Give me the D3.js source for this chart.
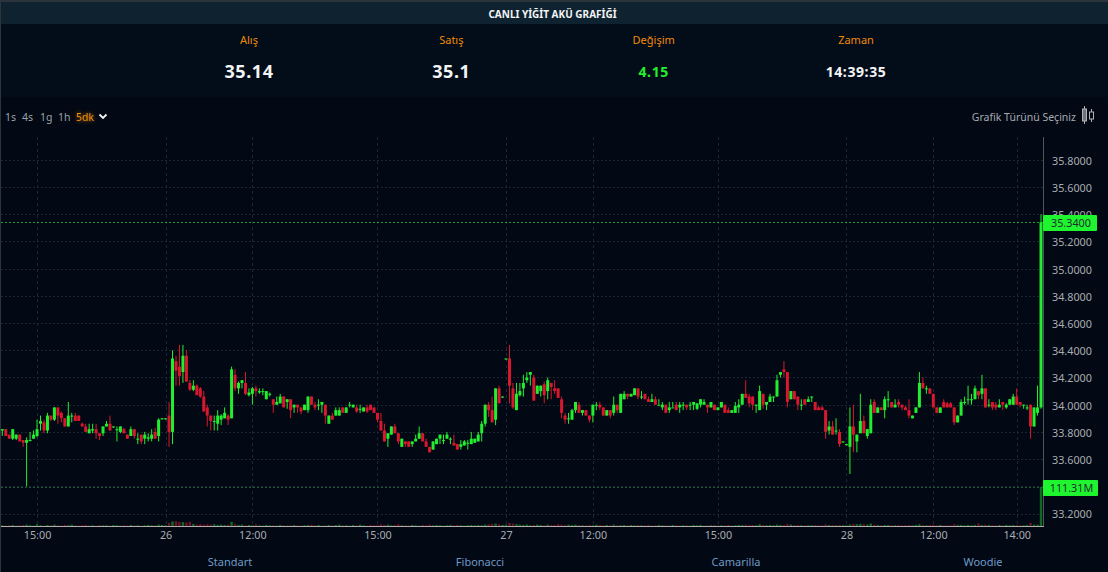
<!DOCTYPE html>
<html lang="tr">
  <head>
    <meta charset="utf-8">
    <title>Canlı Yiğit Akü Grafiği</title>
    <script src="https://cdnjs.cloudflare.com/ajax/libs/d3/7.8.0/d3.min.js"></script>
    <style>
      html, body { margin: 0; padding: 0; background: #020814; overflow: hidden; }
      svg { display: block; }
      text { font-family: "Noto Sans", sans-serif; }
      .axis path, .axis line { display: none; }
      .axis text { fill: #a9adb1; font-size: 10.8px; font-family: "Noto Sans", sans-serif; }
    </style>
  </head>
  <body>
    <div id="chartContainer"></div>

    <script type="text/javascript">
      // Candles, 5 minute bars
      var opens = [
        33.81,33.82,33.78,33.75,33.75,33.78,33.74,33.72,33.74,33.75,
        33.77,33.86,33.87,33.81,33.92,33.89,33.98,33.94,33.90,33.84,
        33.92,33.92,33.92,33.86,33.84,33.79,33.81,33.82,33.79,33.79,
        33.84,33.86,33.84,33.82,33.80,33.82,33.78,33.77,33.82,33.75,
        33.78,33.75,33.75,33.75,33.80,33.77,33.90,33.90,33.92,33.80,
        34.32,34.28,34.24,34.36,34.16,34.11,34.14,34.12,34.06,33.98,
        33.92,33.88,33.86,33.89,33.90,33.92,33.90,34.22,34.12,34.16,
        34.16,34.07,34.08,34.12,34.09,34.10,34.04,34.08,34.04,34.00,
        34.01,34.06,34.02,34.04,33.98,34.00,33.98,33.96,33.96,34.06,
        34.00,34.00,34.00,34.00,33.86,33.92,33.92,33.92,33.98,33.94,
        34.00,33.98,33.98,33.97,33.95,33.98,34.00,33.98,33.94,33.88,
        33.81,33.75,33.78,33.84,33.79,33.69,33.73,33.73,33.71,33.73,
        33.75,33.79,33.73,33.69,33.67,33.71,33.75,33.74,33.75,33.75,
        33.72,33.71,33.69,33.70,33.72,33.71,33.72,33.73,33.79,33.86,
        34.00,33.96,33.89,34.12,34.06,34.34,34.34,34.12,33.96,34.07,
        34.12,34.18,34.22,34.20,34.08,34.10,34.15,34.10,34.16,34.12,
        34.12,34.04,33.92,33.90,33.89,33.96,34.00,33.94,33.96,33.92,
        33.92,34.00,34.00,33.98,33.92,33.96,33.94,34.00,33.94,34.04,
        34.08,34.06,34.07,34.12,34.06,34.08,34.04,34.02,34.04,34.00,
        33.98,34.00,33.96,33.98,34.00,33.98,34.00,34.00,34.00,34.00,
        33.97,34.00,34.00,34.00,33.98,34.00,33.96,33.98,34.00,33.96,
        33.94,33.94,33.98,34.00,34.08,34.06,34.06,34.00,33.96,34.08,
        34.00,34.02,34.06,34.06,34.22,34.26,34.24,34.04,34.10,34.06,
        34.00,34.04,34.02,34.06,34.02,33.98,33.98,33.96,33.81,33.84,
        33.81,33.80,33.73,33.71,33.69,33.84,33.73,33.79,33.88,33.77,
        33.79,34.02,33.94,33.98,33.96,34.04,34.02,33.98,34.02,34.00,
        33.98,33.96,33.90,33.94,33.98,34.16,34.12,34.12,34.08,33.98,
        33.94,34.02,34.01,34.01,33.98,33.87,33.92,34.02,34.04,34.04,
        34.04,34.10,34.08,34.12,34.00,34.02,34.00,33.98,34.02,33.98,
        34.00,34.00,34.06,34.02,34.00,33.98,34.00,33.84,33.94,33.98
      ];
      var closes = [
        33.82,33.77,33.75,33.82,33.78,33.73,33.72,33.74,33.74,33.78,
        33.82,33.88,33.81,33.92,33.89,33.98,33.92,33.90,33.84,33.92,
        33.92,33.88,33.88,33.84,33.80,33.82,33.82,33.79,33.77,33.84,
        33.86,33.81,33.84,33.82,33.84,33.79,33.75,33.82,33.77,33.75,
        33.73,33.78,33.76,33.78,33.75,33.89,33.90,33.90,33.80,34.34,
        34.25,34.21,34.36,34.17,34.11,34.14,34.07,34.06,33.95,33.92,
        33.88,33.88,33.92,33.92,33.94,33.89,34.26,34.12,34.16,34.18,
        34.08,34.09,34.12,34.10,34.10,34.10,34.10,34.08,34.00,34.02,
        34.06,33.98,34.04,33.96,34.00,33.98,33.95,34.00,34.06,34.00,
        33.98,34.00,34.02,33.92,33.92,33.89,33.96,33.96,33.94,33.98,
        34.00,34.00,33.95,33.97,33.98,33.95,33.96,33.94,33.89,33.81,
        33.73,33.79,33.84,33.79,33.73,33.75,33.71,33.69,33.73,33.75,
        33.79,33.73,33.69,33.65,33.73,33.75,33.78,33.74,33.78,33.75,
        33.70,33.67,33.71,33.73,33.72,33.75,33.75,33.78,33.86,34.00,
        33.96,33.87,34.12,34.01,34.06,34.34,34.14,33.98,34.08,34.10,
        34.16,34.20,34.24,34.03,34.14,34.14,34.07,34.18,34.13,34.10,
        34.05,33.94,33.89,33.90,33.96,34.02,33.94,33.96,33.92,33.89,
        34.00,34.00,33.98,33.92,33.96,33.92,34.00,33.96,34.08,34.08,
        34.06,34.08,34.12,34.06,34.06,34.04,34.02,34.04,34.00,34.00,
        34.00,33.94,33.98,33.98,33.96,34.00,34.00,33.98,34.00,34.02,
        34.01,34.04,34.02,33.98,34.02,33.96,33.98,34.02,33.94,33.94,
        33.96,33.99,34.00,34.08,34.05,34.01,34.00,34.00,34.10,34.00,
        34.02,34.06,34.06,34.18,34.24,34.24,34.02,34.10,34.04,34.00,
        34.00,34.00,34.04,34.06,33.96,33.96,33.96,33.80,33.84,33.78,
        33.81,33.71,33.73,33.71,33.84,33.78,33.78,33.88,33.79,33.82,
        34.00,33.94,33.98,33.96,34.04,34.04,33.98,34.00,34.00,33.98,
        33.96,33.92,33.92,33.98,34.16,34.12,34.12,34.08,33.98,33.94,
        33.98,33.98,33.98,33.98,33.87,33.92,34.02,34.02,34.04,34.04,
        34.12,34.07,34.12,33.98,34.00,33.98,33.98,34.00,34.00,34.00,
        34.04,34.06,34.00,34.00,34.00,33.98,33.84,33.98,33.98,35.34
      ];
      var highs = [
        33.82,33.82,33.78,33.82,33.78,33.78,33.74,33.76,33.80,33.81,
        33.89,33.92,33.89,33.94,33.92,33.98,33.98,33.95,33.90,34.02,
        33.94,33.94,33.92,33.87,33.86,33.86,33.86,33.86,33.79,33.84,
        33.88,33.92,33.84,33.84,33.84,33.83,33.78,33.84,33.82,33.79,
        33.78,33.80,33.79,33.82,33.83,33.90,33.90,33.90,34.02,34.40,
        34.36,34.44,34.44,34.40,34.18,34.18,34.15,34.13,34.10,34.00,
        33.92,33.92,33.96,33.93,33.98,33.93,34.28,34.26,34.17,34.18,
        34.24,34.12,34.13,34.14,34.12,34.12,34.10,34.09,34.04,34.06,
        34.08,34.06,34.04,34.04,34.00,34.00,33.98,34.00,34.06,34.06,
        34.02,34.04,34.02,34.00,33.92,33.94,33.98,33.98,33.98,33.98,
        34.02,34.00,34.00,34.00,33.98,34.00,34.00,33.98,33.94,33.94,
        33.86,33.79,33.84,33.86,33.79,33.75,33.73,33.73,33.73,33.78,
        33.84,33.79,33.75,33.69,33.73,33.75,33.78,33.78,33.80,33.76,
        33.78,33.71,33.74,33.74,33.74,33.80,33.75,33.80,33.88,34.00,
        34.02,34.06,34.12,34.14,34.06,34.34,34.44,34.16,34.16,34.16,
        34.22,34.24,34.24,34.22,34.14,34.14,34.17,34.20,34.16,34.18,
        34.12,34.06,33.94,33.94,33.97,34.02,34.02,33.96,33.96,33.92,
        34.00,34.02,34.02,33.98,33.96,33.96,34.06,34.00,34.08,34.10,
        34.08,34.08,34.12,34.12,34.10,34.08,34.06,34.08,34.06,34.04,
        34.02,34.00,34.02,34.02,34.02,34.02,34.02,34.00,34.02,34.02,
        34.01,34.04,34.04,34.00,34.02,34.00,33.98,34.02,34.00,33.98,
        33.96,34.02,34.04,34.08,34.18,34.08,34.06,34.00,34.14,34.08,
        34.02,34.08,34.06,34.22,34.24,34.32,34.24,34.10,34.10,34.06,
        34.04,34.04,34.06,34.06,34.02,33.99,33.99,33.96,33.88,33.88,
        33.90,33.82,33.73,33.71,33.98,34.00,33.78,34.08,33.92,33.82,
        34.04,34.04,33.98,33.98,34.06,34.10,34.02,34.04,34.04,34.00,
        33.99,34.04,33.92,33.98,34.24,34.20,34.14,34.12,34.08,33.98,
        33.98,34.04,34.02,34.02,33.98,33.92,34.04,34.06,34.14,34.08,
        34.14,34.10,34.22,34.12,34.04,34.02,34.02,34.04,34.02,34.01,
        34.04,34.08,34.12,34.02,34.00,34.00,34.00,33.98,34.14,35.40
      ];
      var lows = [
        33.77,33.77,33.75,33.74,33.74,33.73,33.69,33.40,33.73,33.75,
        33.76,33.81,33.79,33.79,33.88,33.88,33.86,33.87,33.84,33.84,
        33.87,33.88,33.88,33.84,33.80,33.79,33.79,33.75,33.74,33.77,
        33.84,33.81,33.83,33.73,33.79,33.79,33.75,33.77,33.75,33.71,
        33.71,33.71,33.73,33.73,33.75,33.73,33.89,33.89,33.69,33.71,
        34.14,34.14,34.16,34.17,34.10,34.10,34.07,34.05,33.95,33.84,
        33.81,33.81,33.81,33.85,33.90,33.85,33.90,34.10,34.08,34.12,
        34.07,34.06,34.00,34.06,34.08,34.07,34.04,34.06,33.94,34.00,
        34.01,33.98,33.97,33.90,33.94,33.94,33.93,33.96,33.94,34.00,
        33.96,33.96,33.94,33.86,33.86,33.89,33.92,33.92,33.94,33.94,
        33.98,33.98,33.94,33.94,33.95,33.94,33.96,33.94,33.87,33.81,
        33.73,33.69,33.78,33.79,33.71,33.69,33.69,33.69,33.69,33.73,
        33.75,33.73,33.69,33.65,33.67,33.71,33.71,33.71,33.75,33.71,
        33.70,33.67,33.67,33.70,33.67,33.71,33.72,33.73,33.73,33.84,
        33.91,33.87,33.85,34.01,34.05,34.33,34.01,33.97,33.96,34.06,
        34.06,34.16,34.14,34.03,34.08,34.06,34.01,34.04,34.04,34.08,
        34.05,33.90,33.86,33.86,33.89,33.94,33.94,33.92,33.92,33.87,
        33.87,33.96,33.96,33.92,33.92,33.90,33.92,33.94,33.94,34.04,
        34.04,34.06,34.07,34.04,34.04,34.04,34.02,34.02,34.00,34.00,
        33.96,33.94,33.94,33.98,33.96,33.94,33.96,33.96,33.96,33.96,
        33.96,33.98,34.00,33.94,33.98,33.96,33.96,33.98,33.94,33.94,
        33.94,33.94,33.94,34.00,34.05,33.98,33.96,33.94,33.96,33.97,
        33.96,34.02,34.02,34.06,34.20,34.20,33.98,34.04,34.04,33.96,
        33.96,34.00,34.02,34.02,33.96,33.96,33.96,33.75,33.78,33.78,
        33.78,33.69,33.72,33.70,33.49,33.65,33.65,33.79,33.79,33.75,
        33.79,33.94,33.94,33.96,33.90,33.98,33.98,33.98,33.98,33.96,
        33.96,33.90,33.90,33.94,33.98,34.12,34.08,34.08,33.98,33.94,
        33.94,33.98,33.98,33.98,33.85,33.87,33.92,34.00,34.00,34.00,
        34.04,34.04,34.04,33.98,33.98,33.96,33.96,33.98,33.96,33.97,
        34.00,34.00,34.00,33.98,33.97,33.96,33.75,33.84,33.92,33.97
      ];
      // Volume in millions
      var volumes = [
        2,1,2,3,1,2,3,4,2,1,
        5,2,1,3,2,4,2,1,3,2,
        4,2,1,2,3,1,2,1,3,2,
        2,1,3,2,1,2,1,3,2,2,
        1,2,3,2,2,4,3,2,9,13,
        14,12,11,10,12,6,4,5,4,5,
        4,5,3,4,3,4,12,6,3,4,
        2,3,2,5,2,1,3,2,2,1,
        3,2,1,2,3,2,1,2,3,4,
        2,3,1,2,3,2,3,4,2,2,
        1,3,2,4,2,1,3,2,2,5,
        3,4,2,3,5,2,2,1,3,2,
        1,3,2,4,2,3,2,1,2,3,
        2,3,2,1,2,3,2,3,2,4,
        5,6,7,5,3,4,9,7,5,4,
        3,4,2,3,4,3,2,4,3,3,
        5,4,3,4,3,4,3,2,2,3,
        2,4,3,2,3,2,4,2,2,3,
        2,3,2,3,2,2,3,1,2,3,
        2,2,1,3,2,1,2,2,1,3,
        2,3,1,2,2,3,1,2,2,3,
        1,2,3,3,4,3,3,2,5,3,
        2,3,2,4,3,3,6,4,3,3,
        2,2,2,2,3,2,2,5,3,3,
        2,3,2,2,4,6,5,6,5,4,
        7,4,3,2,3,3,2,2,3,2,
        2,3,2,3,5,3,2,3,4,2,
        3,2,2,2,5,3,3,2,3,2,
        3,7,3,4,3,2,2,3,2,3,
        2,3,3,2,2,3,9,4,4,111.31
      ];

      var priceTicks = [33.2, 33.4, 33.6, 33.8, 34.0, 34.2, 34.4, 34.6, 34.8, 35.0, 35.2, 35.4, 35.6, 35.8];
      var timeTickBars = [10, 47, 72, 108, 145, 170, 206, 243, 268, 292];
      var timeTickLabels = ["15:00", "26", "12:00", "15:00", "27", "12:00", "15:00", "28", "12:00", "14:00"];
      var lastPrice = 35.34;
      var lastVolumeLabel = "111.31M";

      var quoteHeads = ["Alış", "Satış", "Değişim", "Zaman"];
      var quoteValues = ["35.14", "35.1", "4.15", "14:39:35"];
      var periods = ["1s", "4s", "1g", "1h", "5dk"];
      var pivotNames = ["Standart", "Fibonacci", "Camarilla", "Woodie"];

      var width = 1108, height = 572;
      var upColor = "#22ee30", downColor = "#d9182f";
      var orange = "#ef8a08";
      var plotRight = 1043, plotTop = 137, plotBottom = 526;

      var svg = d3.select("#chartContainer")
                  .append("svg")
                  .attr("width", width)
                  .attr("height", height);

      // Background bands
      svg.append("rect").attr("width", width).attr("height", height).attr("fill", "#020814");
      svg.append("rect").attr("width", width).attr("height", 97).attr("y", 0).attr("fill", "#030d19");
      svg.append("rect").attr("width", width).attr("height", 22).attr("y", 2).attr("fill", "#0f2230");
      svg.append("rect").attr("width", width).attr("height", 2).attr("fill", "#2c333a");
      svg.append("rect").attr("width", 1).attr("height", height).attr("fill", "#2c333a");

      // Header
      svg.append("text")
         .attr("x", 552.5).attr("y", 18)
         .attr("text-anchor", "middle")
         .attr("fill", "#f2f4f5")
         .style("font-size", "10px")
         .style("font-weight", "bold")
         .text("CANLI YİĞİT AKÜ GRAFİĞİ");

      var quoteX = d3.scalePoint().domain(quoteHeads).range([249, 856]);

      svg.selectAll(".quote-head")
         .data(quoteHeads)
         .enter().append("text")
         .attr("class", "quote-head")
         .attr("x", function(d) { return quoteX(d); })
         .attr("y", 44)
         .attr("text-anchor", "middle")
         .attr("fill", orange)
         .style("font-size", "11px")
         .text(function(d) { return d; });

      svg.selectAll(".quote-value")
         .data(quoteValues)
         .enter().append("text")
         .attr("class", "quote-value")
         .attr("x", function(d, i) { return quoteX(quoteHeads[i]); })
         .attr("y", function(d, i) { return i < 2 ? 78 : 77; })
         .attr("text-anchor", "middle")
         .attr("fill", function(d, i) { return i == 2 ? "#22ee30" : "#f2f4f5"; })
         .style("font-size", function(d, i) { return i < 2 ? "18px" : "14px"; })
         .style("font-weight", "bold")
         .style("letter-spacing", "0.6px")
         .text(function(d) { return d; });

      // Period switcher
      var periodX = [5, 22, 40, 58, 76];
      svg.selectAll(".period")
         .data(periods)
         .enter().append("text")
         .attr("class", "period")
         .attr("x", function(d, i) { return periodX[i]; })
         .attr("y", 121)
         .attr("fill", function(d) { return d == "5dk" ? "#f5920c" : "#9aa2a8"; })
         .style("font-size", "10.5px")
         .style("filter", function(d) { return d == "5dk" ? "drop-shadow(0 0 2px #c87000)" : null; })
         .text(function(d) { return d; });

      svg.append("path")
         .attr("d", "M99.5,114.5 L103,118 L106.5,114.5")
         .attr("fill", "none")
         .attr("stroke", "#f2f4f5")
         .attr("stroke-width", 1.8);

      svg.append("text")
         .attr("x", 1076).attr("y", 121)
         .attr("text-anchor", "end")
         .attr("fill", "#a6abb0")
         .style("font-size", "10.5px")
         .text("Grafik Türünü Seçiniz");

      // Chart type icon
      var icon = svg.append("g").attr("fill", "none").attr("stroke", "#b0b4b8").attr("stroke-width", 1);
      icon.append("path").attr("d", "M1084.5,106 V124 M1091.5,109 V122");
      icon.append("rect").attr("x", 1082.5).attr("y", 109).attr("width", 4).attr("height", 12).attr("fill", "#6f757a");
      icon.append("rect").attr("x", 1089.5).attr("y", 112).attr("width", 4).attr("height", 7).attr("fill", "#020814");

      // Scales
      var x = d3.scaleLinear().domain([0, opens.length - 1]).range([2.3, 1041]);
      var y = d3.scaleLinear().domain([33.2, 35.8]).range([513.5, 159.9]);
      var yVolume = d3.scaleLinear().domain([0, d3.max(volumes)]).range([plotBottom, 487]);

      // Grid
      svg.append("g").selectAll("line")
         .data(priceTicks)
         .enter().append("line")
         .attr("x1", 1).attr("x2", plotRight)
         .attr("y1", function(d) { return Math.round(y(d)) + 0.5; })
         .attr("y2", function(d) { return Math.round(y(d)) + 0.5; })
         .attr("stroke", "#1b2833")
         .attr("stroke-dasharray", "2,2");

      svg.append("g").selectAll("line")
         .data(timeTickBars)
         .enter().append("line")
         .attr("x1", function(d) { return Math.round(x(d)) + 0.5; })
         .attr("x2", function(d) { return Math.round(x(d)) + 0.5; })
         .attr("y1", plotTop).attr("y2", plotBottom)
         .attr("stroke", "#1b2833")
         .attr("stroke-dasharray", "3,3");

      // Axes
      var yAxis = svg.append("g")
         .attr("class", "axis")
         .attr("transform", "translate(" + plotRight + ",1)")
         .call(d3.axisRight(y).tickValues(priceTicks).tickSize(0).tickPadding(9)
                 .tickFormat(function(d) { return d.toFixed(4); }));

      var xAxis = svg.append("g")
         .attr("class", "axis")
         .attr("transform", "translate(0," + plotBottom + ")")
         .call(d3.axisBottom(x).tickValues(timeTickBars).tickSize(0).tickPadding(5)
                 .tickFormat(function(d, i) { return timeTickLabels[i]; }));

      svg.append("line")
         .attr("x1", plotRight + 0.5).attr("x2", plotRight + 0.5)
         .attr("y1", plotTop).attr("y2", plotBottom)
         .attr("stroke", "#4c5660");

      // Volume bars
      svg.append("g").selectAll("rect")
         .data(volumes)
         .enter().append("rect")
         .attr("x", function(d, i) { return x(i) - 1.2; })
         .attr("y", function(d) { return yVolume(d); })
         .attr("width", 2.4)
         .attr("height", function(d) { return plotBottom - yVolume(d); })
         .attr("fill", function(d, i) { return closes[i] >= opens[i] ? "#0f6a20" : "#6a1428"; });

      svg.append("line")
         .attr("x1", 1).attr("x2", plotRight + 1)
         .attr("y1", plotBottom + 0.5).attr("y2", plotBottom + 0.5)
         .attr("stroke", "#b3aaaa");

      // Price lines for the last values
      svg.append("line")
         .attr("x1", 1).attr("x2", plotRight)
         .attr("y1", Math.round(y(lastPrice)) + 0.5).attr("y2", Math.round(y(lastPrice)) + 0.5)
         .attr("stroke", "#1f9a2c")
         .attr("stroke-dasharray", "2,2");

      svg.append("line")
         .attr("x1", 1).attr("x2", plotRight)
         .attr("y1", Math.round(yVolume(d3.max(volumes))) + 0.5).attr("y2", Math.round(yVolume(d3.max(volumes))) + 0.5)
         .attr("stroke", "#1d5a30")
         .attr("stroke-dasharray", "2,2");

      // Candles
      var candles = svg.append("g");

      candles.selectAll(".wick")
         .data(opens)
         .enter().append("line")
         .attr("class", "wick")
         .attr("x1", function(d, i) { return x(i); })
         .attr("x2", function(d, i) { return x(i); })
         .attr("y1", function(d, i) { return y(highs[i]); })
         .attr("y2", function(d, i) { return y(lows[i]); })
         .attr("stroke", function(d, i) { return closes[i] >= d ? upColor : downColor; })
         .attr("stroke-width", 1);

      candles.selectAll(".body")
         .data(opens)
         .enter().append("rect")
         .attr("class", "body")
         .attr("x", function(d, i) { return x(i) - 1.5; })
         .attr("y", function(d, i) { return y(Math.max(d, closes[i])); })
         .attr("width", 3)
         .attr("height", function(d, i) { return Math.max(1, Math.abs(y(d) - y(closes[i]))); })
         .attr("fill", function(d, i) { return closes[i] >= d ? upColor : downColor; });

      // Last value tags
      function addTag(yPos, label, tagWidth) {
        svg.append("rect")
           .attr("x", plotRight)
           .attr("y", yPos - 8)
           .attr("width", tagWidth)
           .attr("height", 16)
           .attr("rx", 1)
           .attr("fill", "#1ff52e");
        svg.append("text")
           .attr("x", plotRight + tagWidth / 2 + 1)
           .attr("y", yPos + 4)
           .attr("text-anchor", "middle")
           .attr("fill", "#1e2e30")
           .style("font-size", "10.8px")
           .text(label);
      }
      addTag(y(lastPrice) + 0.5, lastPrice.toFixed(4), 54);
      addTag(yVolume(d3.max(volumes)) + 1, lastVolumeLabel, 55);

      // Pivot links
      var pivotX = [230, 480, 736, 983];
      svg.selectAll(".pivot")
         .data(pivotNames)
         .enter().append("text")
         .attr("class", "pivot")
         .attr("x", function(d, i) { return pivotX[i]; })
         .attr("y", 566)
         .attr("text-anchor", "middle")
         .attr("fill", "#6d9bc6")
         .style("font-size", "11px")
         .text(function(d) { return d; });
    </script>
  </body>
</html>
